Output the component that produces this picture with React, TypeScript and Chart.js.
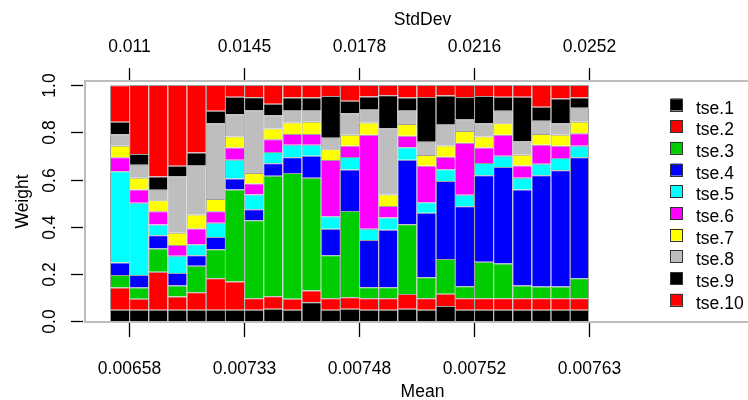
import React, { useEffect, useRef } from "react";
import { Chart, registerables } from "chart.js";

Chart.register(...registerables);

// ---- data ----
const seriesNames = ["tse.1", "tse.2", "tse.3", "tse.4", "tse.5", "tse.6", "tse.7", "tse.8", "tse.9", "tse.10"];

const tse1 = [0.049, 0.049, 0.049, 0.049, 0.049, 0.049, 0.049, 0.049, 0.053, 0.049, 0.081, 0.049, 0.053, 0.049, 0.049, 0.053, 0.049, 0.065, 0.049, 0.049, 0.049, 0.049, 0.049, 0.049, 0.049];
const tse2 = [0.094, 0.046, 0.161, 0.056, 0.074, 0.133, 0.119, 0.049, 0.053, 0.046, 0.049, 0.049, 0.049, 0.049, 0.049, 0.063, 0.049, 0.052, 0.049, 0.049, 0.049, 0.049, 0.049, 0.049, 0.049];
const tse3 = [0.053, 0.048, 0.098, 0.046, 0.112, 0.123, 0.39, 0.33, 0.51, 0.533, 0.477, 0.182, 0.365, 0.046, 0.046, 0.295, 0.088, 0.147, 0.05, 0.154, 0.147, 0.053, 0.049, 0.049, 0.084];
const tse4 = [0.053, 0.053, 0.056, 0.053, 0.045, 0.052, 0.046, 0.046, 0.053, 0.066, 0.094, 0.112, 0.175, 0.2, 0.243, 0.273, 0.273, 0.33, 0.339, 0.366, 0.408, 0.407, 0.471, 0.492, 0.512];
const tse5 = [0.386, 0.306, 0.046, 0.073, 0.046, 0.06, 0.08, 0.063, 0.048, 0.053, 0.046, 0.053, 0.053, 0.048, 0.052, 0.053, 0.045, 0.049, 0.049, 0.052, 0.048, 0.049, 0.049, 0.052, 0.049];
const tse6 = [0.059, 0.056, 0.056, 0.046, 0.067, 0.049, 0.052, 0.046, 0.053, 0.046, 0.046, 0.238, 0.048, 0.397, 0.049, 0.048, 0.154, 0.053, 0.22, 0.066, 0.088, 0.052, 0.08, 0.052, 0.053];
const tse7 = [0.049, 0.049, 0.046, 0.052, 0.059, 0.052, 0.046, 0.045, 0.046, 0.048, 0.052, 0.045, 0.046, 0.052, 0.049, 0.05, 0.046, 0.048, 0.049, 0.046, 0.049, 0.046, 0.046, 0.046, 0.049];
const tse8 = [0.049, 0.056, 0.045, 0.238, 0.21, 0.32, 0.094, 0.264, 0.056, 0.053, 0.049, 0.049, 0.091, 0.058, 0.28, 0.059, 0.056, 0.091, 0.049, 0.056, 0.053, 0.056, 0.056, 0.049, 0.059];
const tse9 = [0.053, 0.045, 0.056, 0.045, 0.052, 0.053, 0.074, 0.056, 0.049, 0.053, 0.053, 0.177, 0.053, 0.052, 0.14, 0.053, 0.189, 0.121, 0.095, 0.116, 0.059, 0.189, 0.059, 0.105, 0.043];
const tse10 = [0.154, 0.292, 0.387, 0.342, 0.286, 0.109, 0.05, 0.052, 0.079, 0.053, 0.053, 0.046, 0.067, 0.049, 0.043, 0.053, 0.051, 0.044, 0.051, 0.046, 0.05, 0.05, 0.092, 0.057, 0.053];

const seriesValues = [tse1, tse2, tse3, tse4, tse5, tse6, tse7, tse8, tse9, tse10];

// axis ticks: positions are portfolio numbers (R barplot coordinates)
const tickPortfolios = [1, 7, 13, 19, 25];
const meanTickLabels = ["0.00658", "0.00733", "0.00748", "0.00752", "0.00763"];
const stdDevTickLabels = ["0.011", "0.0145", "0.0178", "0.0216", "0.0252"];
const weightTicks = [0, 0.2, 0.4, 0.6, 0.8, 1.0];
const weightTickLabels = ["0.0", "0.2", "0.4", "0.6", "0.8", "1.0"];

// ---- styles ----
const seriesColors = ["#000000", "#FF0000", "#00CD00", "#0000FF", "#00FFFF", "#FF00FF", "#FFFF00", "#BEBEBE", "#000000", "#FF0000"];
const FONT = '17.5px "Liberation Sans", Arial, Helvetica, sans-serif';

const overlayPlugin = {
  id: "rOverlay",
  afterDatasetsDraw(chart: any) {
    const { ctx, chartArea: a, scales } = chart;
    const xs = scales.x;
    const ys = scales.y;
    ctx.save();
    // box
    ctx.strokeStyle = "#bdbdbd";
    ctx.lineWidth = 2;
    ctx.strokeRect(a.left, a.top, a.right - a.left, a.bottom - a.top);

    ctx.strokeStyle = "#000";
    ctx.lineWidth = 1.3;
    ctx.fillStyle = "#000";
    ctx.font = FONT;

    // top & bottom ticks
    tickPortfolios.forEach((p, i) => {
      const x = Math.round(xs.getPixelForValue(p)) + 0.5;
      ctx.beginPath();
      ctx.moveTo(x, a.top - 13);
      ctx.lineTo(x, a.top - 1);
      ctx.moveTo(x, a.bottom + 1);
      ctx.lineTo(x, a.bottom + 15);
      ctx.stroke();
      ctx.textAlign = "center";
      ctx.textBaseline = "alphabetic";
      ctx.fillText(stdDevTickLabels[i], x, a.top - 29.5);
      ctx.fillText(meanTickLabels[i], x, a.bottom + 52);
    });

    // left ticks
    weightTicks.forEach((v, i) => {
      const y = Math.round(ys.getPixelForValue(v)) + 0.5;
      ctx.beginPath();
      ctx.moveTo(a.left - 14, y);
      ctx.lineTo(a.left - 2, y);
      ctx.stroke();
      ctx.save();
      ctx.translate(a.left - 30.5, y);
      ctx.rotate(-Math.PI / 2);
      ctx.textAlign = "center";
      ctx.textBaseline = "alphabetic";
      ctx.fillText(weightTickLabels[i], 0, 0);
      ctx.restore();
    });

    // titles
    const cx = (a.left + a.right) / 2;
    ctx.textAlign = "center";
    ctx.textBaseline = "alphabetic";
    ctx.fillText("StdDev", cx, 25);
    ctx.fillText("Mean", cx, a.bottom + 75);
    ctx.save();
    ctx.translate(28, (a.top + a.bottom) / 2);
    ctx.rotate(-Math.PI / 2);
    ctx.fillText("Weight", 0, 0);
    ctx.restore();

    // legend
    ctx.textAlign = "left";
    seriesNames.forEach((name, i) => {
      const top = 98.5 + i * 21.7;
      ctx.fillStyle = seriesColors[i];
      ctx.fillRect(670.5, top, 12, 12);
      ctx.strokeStyle = "#333";
      ctx.lineWidth = 1;
      ctx.strokeRect(670.5, Math.round(top) + 0.5, 12, 12);
      ctx.fillStyle = "#000";
      ctx.fillText(name, 696, top + 15);
    });
    ctx.restore();
  },
};

export default function App() {
  const ref = useRef<HTMLCanvasElement | null>(null);
  useEffect(() => {
    if (!ref.current) return;
    const unit = (589 - 110) / 25;
    const chart = new Chart(ref.current, {
      type: "bar",
      data: {
        datasets: seriesValues.map((vals, s) => ({
          label: seriesNames[s],
          data: vals.map((v, i) => ({ x: i + 0.5, y: v })),
          backgroundColor: seriesColors[s],
          borderColor: "#9e9e9e",
          borderWidth: (c: any) => ({ top: 1, left: 1, bottom: 0, right: c.dataIndex === vals.length - 1 ? 1 : 0 }),
          borderSkipped: false,
          barPercentage: 1,
          categoryPercentage: 1,
          inflateAmount: 0,
        })),
      },
      options: {
        responsive: false,
        animation: false,
        layout: { padding: { left: 85, top: 81, right: 0, bottom: 78 } },
        plugins: { legend: { display: false }, tooltip: { enabled: false } },
        scales: {
          x: {
            type: "linear",
            display: false,
            offset: false,
            stacked: true,
            min: (85 - 110) / unit,
            max: (760 - 110) / unit,
          },
          y: { display: false, stacked: true, min: -0.003, max: 1.017 },
        },
      },
      plugins: [overlayPlugin],
    } as any);
    return () => chart.destroy();
  }, []);
  return (
    <div style={{ position: "fixed", left: 0, top: 0, width: 760, height: 400, background: "#fff" }}>
      <canvas ref={ref} width={760} height={400} style={{ width: 760, height: 400, display: "block" }} />
    </div>
  );
}
